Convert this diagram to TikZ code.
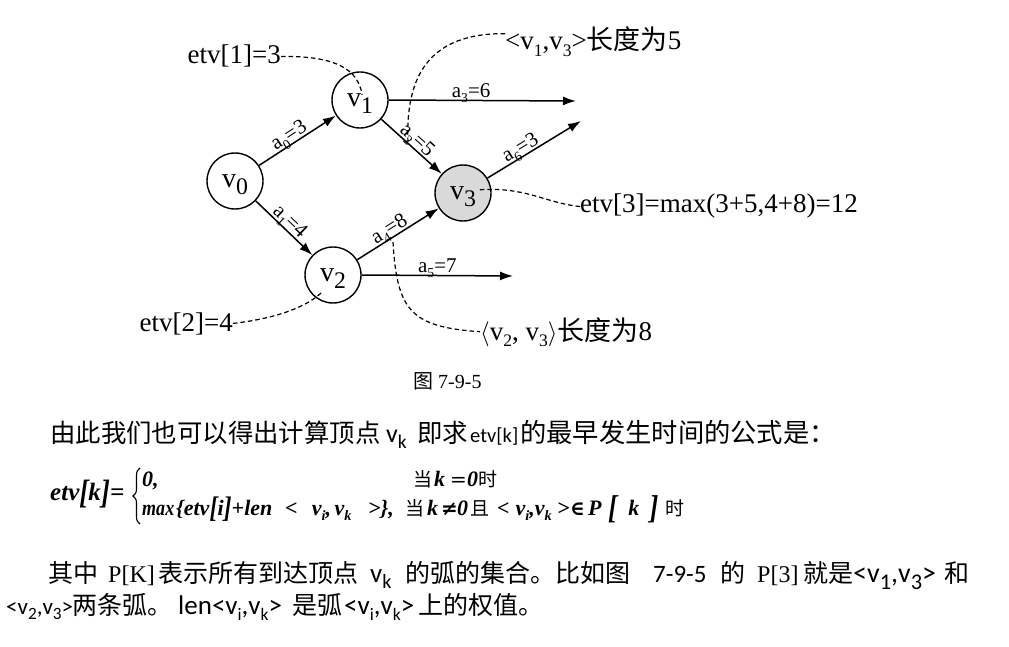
\documentclass[tikz,border=0pt]{standalone}
\usepackage{fontspec}
\setmainfont{Liberation Serif}
\newfontfamily\cjk{Noto Sans CJK SC}
\newfontfamily\carl{Carlito}
\newfontfamily\dvs{DejaVu Serif}
\usetikzlibrary{arrows.meta,decorations.pathreplacing}
\newcommand\fsz[1]{\fontsize{#1}{#1}\selectfont}
\newcommand\lsub[2][0.65]{\raisebox{-0.25em}[0pt][0pt]{\scalebox{#1}{#2}}}
\newcommand\seg[2]{\makebox[#1pt][l]{#2}}
\newcommand\segc[2]{\makebox[#1pt][c]{#2}}
\newcommand\bigbr[1]{\raisebox{-0.12em}{\scalebox{1.1}[1.35]{#1}}}
\newcommand\hugebr[1]{\raisebox{-0.18em}{\scalebox{1.25}[1.5]{#1}}}
\begin{document}
\begin{tikzpicture}[x=1pt,y=-1pt,
  vert/.style={circle,draw,line width=1.4pt,minimum size=56pt,inner sep=0pt,font=\fsz{28}},
  arr/.style={line width=1.5pt,-{Latex[length=13pt,width=9pt]}},
  elab/.style={font=\fsz{21},inner sep=2pt},
  note/.style={font=\fsz{27},inner sep=0pt},
  lead/.style={line width=1.2pt,dash pattern=on 4.5pt off 3pt},
  body/.style={anchor=base west,inner sep=0pt}]
\useasboundingbox (0,0) rectangle (1009,647);
% vertices
\node[vert] (v0) at (235,181) {v\lsub[0.85]{0}};
\node[vert] (v1) at (360,100) {v\lsub[0.85]{1}};
\node[vert] (v2) at (333,275) {v\lsub[0.85]{2}};
\node[vert,fill=black!15] (v3) at (463,193) {v\lsub[0.85]{3}};
\coordinate (e3) at (576,101);
\coordinate (e5) at (513,276);
\coordinate (e6) at (581,121);
% arcs
\draw[arr] (v0) -- node[elab,sloped,above,pos=0.45]{a\lsub{0}=3} (v1);
\draw[arr] (v0) -- node[elab,sloped,above]{a\lsub{1}=4} (v2);
\draw[arr] (v1) -- node[elab,sloped,above]{a\lsub{2}=5} (v3);
\draw[arr] (v1.east) -- node[elab,above,pos=0.44]{a\lsub{3}=6} (e3);
\draw[arr] (v2) -- node[elab,sloped,above,pos=0.45]{a\lsub{4}=8} (v3);
\draw[arr] (v2.east) -- node[elab,above,pos=0.5]{a\lsub{5}=7} (e5);
\draw[arr] (v3) -- node[elab,sloped,above,pos=0.4]{a\lsub{6}=3} (e6);
% notes
\node[note,anchor=base east] (n1) at (281,64) {etv[1]=3};
\node[note,anchor=base west] (n2) at (505,50) {<v\lsub{1},v\lsub{3}>{\cjk 长度为}5};
\node[note,anchor=base west] (n3) at (580,213) {etv[3]=max(3+5,4+8)=12};
\node[note,anchor=base east] (n4) at (233,331) {etv[2]=4};
\node[note,anchor=base west] (n5) at (480,340) {$\langle$v\lsub{2}, v\lsub{3}$\rangle${\cjk 长度为}8};
\coordinate (t1) at (362,95);
\coordinate (t2) at (408,143);
\coordinate (t3) at (477,190);
\coordinate (t4) at (323,291);
\coordinate (t5) at (393,242);
\draw[lead] (n1.east) .. controls (320,56) and (358,62) .. (t1);
\draw[lead] ([yshift=7pt]n2.west) .. controls (430,33) and (405,75) .. (t2);
\draw[lead] (n3.west) .. controls (545,203) and (525,186) .. (t3);
\draw[lead] (n4.east) .. controls (280,318) and (310,305) .. (t4);
\draw[lead] (t5) .. controls (397,310) and (410,327) .. (n5.west);
% caption
\node[body] (cap) at (413,388) {\fsz{20}{\cjk 图}\ 7-9-5};
% line 1
\node[body] (l1) at (50,442) {\fsz{25.4}\seg{336}{\cjk 由此我们也可以得出计算顶点}\seg{31}{\carl\fsz{26}v\lsub[0.75]{k}}\seg{53}{\cjk 即求}\seg{50}{\carl\fsz{20.5}etv[k]}{\fsz{26.3}\cjk 的最早发生时间的公式是：}};
% formula
\node[body] (f0) at (50,500) {\fsz{25}\bfseries\itshape etv\bigbr{[}k\bigbr{]}=};
\draw[decorate,decoration={brace,amplitude=7pt},line width=1.1pt] (140,524) -- (140,468);
\node[body] (r1a) at (142,486) {\fsz{22}\bfseries\itshape 0,};
\node[body] (r1b) at (413,486) {\fsz{22}\seg{21}{\fsz{19}\cjk 当}\seg{16}{\bfseries\itshape k}\seg{17}{\dvs\fsz{20}=}\seg{11}{\bfseries\itshape 0}{\fsz{19}\cjk 时}};
\node[body] (r2) at (142,515) {\fsz{22}\bfseries\itshape
\seg{34}{\scalebox{0.82}[1]{max}}\seg{109}{\{etv\bigbr{[}i\bigbr{]}+len}\seg{13}{<}\segc{67}{v\lsub{i},\,v\lsub{k}}\seg{40}{\hspace{3pt}>\},}\seg{22}{\mdseries\upshape\fsz{19}\cjk 当}\seg{14}{k}\seg{16}{\dvs\fsz{20}≠}\seg{13}{0}\seg{27}{\mdseries\upshape\fsz{19}\cjk 且}\seg{13}{<}\segc{47}{v\lsub{i},v\lsub{k}}\seg{13}{>}\seg{18}{\dvs\fsz{20}∈}\seg{20}{P}\seg{57}{\hugebr{[}\hspace{11pt}k\hspace{10pt}\hugebr{]}}{\mdseries\upshape\fsz{19}\cjk 时}};
% line 3
\node[body] (l3) at (48,582) {\fsz{25}\seg{60}{\cjk 其中}\seg{50}{\fsz{24}P[K]}\seg{212}{\cjk 表示所有到达顶点}\seg{35}{\carl\fsz{27}v\lsub[0.75]{k}}\seg{248}{\cjk 的弧的集合。比如图}\seg{67}{\carl 7-9-5}\seg{37}{\cjk 的}\seg{46}{\fsz{24}P[3]}\seg{50}{\cjk 就是}\seg{91}{\carl\fsz{28}<v\lsub[0.8]{1},v\lsub[0.8]{3}>}{\cjk 和}};
% line 4
\node[body] (l4) at (6,614) {\fsz{25}\seg{66}{\carl\fsz{23}<v\lsub[0.75]{2},v\lsub[0.75]{3}>}\seg{106}{\cjk 两条弧。}\seg{114}{\carl\fsz{27}len<v\lsub{i},v\lsub{k}>}\seg{52}{\cjk 是弧}\seg{74}{\carl\fsz{27}<v\lsub{i},v\lsub{k}>}{\cjk 上的权值。}};
\end{tikzpicture}
\end{document}
